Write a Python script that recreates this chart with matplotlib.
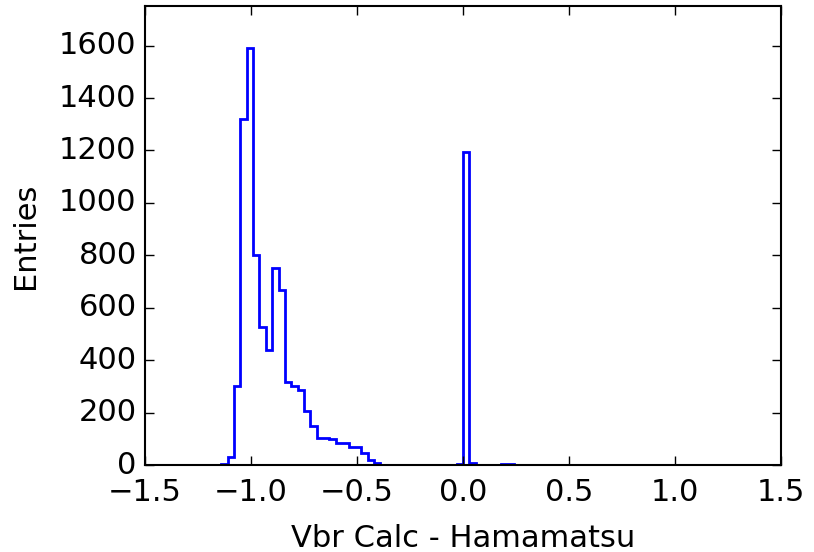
import numpy as np
import matplotlib
matplotlib.use("Agg")
import matplotlib.pyplot as plt

plt.style.use("classic")

# 100 bins between -1.5 and 1.5, counts
bin_lo = -1.5
bin_hi = 1.5
n_bins = 100

counts = [0] * n_bins
peak_counts = {
    12: 4, 13: 30, 14: 303, 15: 1321, 16: 1592, 17: 800, 18: 528, 19: 437,
    20: 750, 21: 668, 22: 318, 23: 303, 24: 288, 25: 207, 26: 150, 27: 104,
    28: 103, 29: 98, 30: 85, 31: 85, 32: 70, 33: 70, 34: 45, 35: 18, 36: 6,
    49: 2, 50: 1193, 51: 6, 52: 1, 53: 1, 54: 1, 55: 1, 56: 3, 57: 3,
}
for k in peak_counts:
    counts[k] = peak_counts[k]

edges = np.linspace(bin_lo, bin_hi, n_bins + 1)
centers = 0.5 * (edges[:-1] + edges[1:])

fig = plt.figure(figsize=(8.14, 5.52), dpi=100, facecolor="white")
ax = fig.add_axes([145 / 814, 1 - 465 / 552, (781 - 145) / 814, (465 - 6) / 552])

ax.hist(centers, bins=edges, weights=counts, histtype="step", color="blue", linewidth=2)

ax.set_xlim(-1.5, 1.5)
ax.set_ylim(0, 1.1 * max(counts))
ax.set_xticks([-1.5, -1.0, -0.5, 0.0, 0.5, 1.0, 1.5])
ax.set_yticks(range(0, 1601, 200))
ax.set_xlabel("Vbr Calc - Hamamatsu", fontsize=22, labelpad=12)
ax.set_ylabel("Entries", fontsize=22, labelpad=14)
ax.tick_params(labelsize=22, direction="in", length=6.5, width=1, top=True, right=True)
ax.tick_params(axis="x", pad=9.5)
ax.tick_params(axis="y", pad=6)
for sp in ax.spines.values():
    sp.set_linewidth(1.5)

fig.savefig("out.png", dpi=100, facecolor="white")
